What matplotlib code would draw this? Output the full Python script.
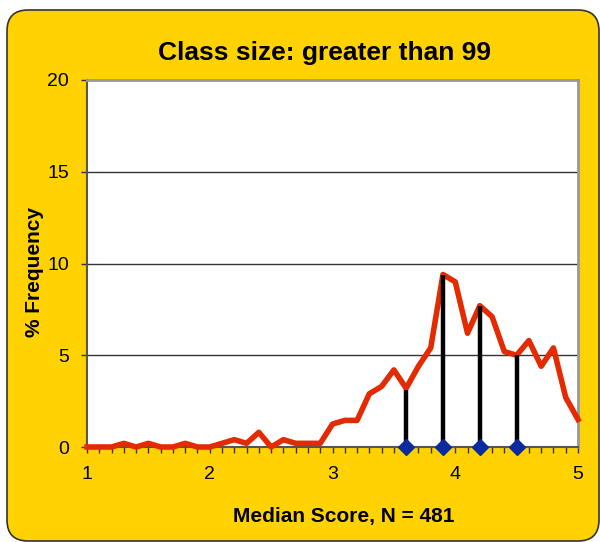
import matplotlib
matplotlib.use("Agg")
import matplotlib.pyplot as plt
from matplotlib.patches import FancyBboxPatch
from matplotlib.ticker import MultipleLocator

plt.rcParams['font.family'] = ['Liberation Sans', 'DejaVu Sans']

# ---- data ----
scores = [1.0, 1.1, 1.2, 1.3, 1.4, 1.5, 1.6, 1.7, 1.8, 1.9,
          2.0, 2.1, 2.2, 2.3, 2.4, 2.5, 2.6, 2.7, 2.8, 2.9,
          3.0, 3.1, 3.2, 3.3, 3.4, 3.5, 3.6, 3.7, 3.8, 3.9,
          4.0, 4.1, 4.2, 4.3, 4.4, 4.5, 4.6, 4.7, 4.8, 4.9, 5.0]
frequency = [0.0, 0.0, 0.0, 0.2, 0.0, 0.2, 0.0, 0.0, 0.2, 0.0,
             0.0, 0.2, 0.4, 0.2, 0.8, 0.0, 0.4, 0.2, 0.2, 0.2,
             1.25, 1.45, 1.45, 2.9, 3.3, 4.2, 3.2, 4.4, 5.4, 9.4,
             9.0, 6.2, 7.7, 7.1, 5.2, 5.0, 5.8, 4.4, 5.4, 2.7, 1.5]
stat_x = [3.6, 3.9, 4.2, 4.5]
stat_y = [3.1, 9.4, 7.7, 5.0]
xticks = [1, 2, 3, 4, 5]
yticks = [0, 5, 10, 15, 20]
title = "Class size: greater than 99"
xlabel = "Median Score, N = 481"
ylabel = "% Frequency"

W, H = 600, 542
fig = plt.figure(figsize=(W / 100, H / 100), dpi=100)
fig.patch.set_facecolor('white')

# rounded yellow background
box = FancyBboxPatch((7 / W, 1 - 541 / H), (599 - 7) / W, (541 - 10) / H,
                     boxstyle="round,pad=0,rounding_size=0.035",
                     transform=fig.transFigure, facecolor='#FFD200',
                     edgecolor='#333333', linewidth=1.2, zorder=-5,
                     mutation_aspect=W / H)
fig.patches.append(box)

left, right, top, bottom = 87, 578, 80, 447
ax = fig.add_axes([left / W, 1 - bottom / H, (right - left) / W, (bottom - top) / H])
ax.set_zorder(2)
ax.set_facecolor('white')

ax.set_xlim(1, 5)
ax.set_ylim(0, 20)
ax.set_xticks(xticks)
ax.set_yticks(yticks)
ax.xaxis.set_minor_locator(MultipleLocator(0.1))
ax.tick_params(axis='both', which='major', direction='out', length=4.3, width=1,
               color='#333333', labelsize=14)
ax.tick_params(axis='y', which='major', pad=8.5)
ax.tick_params(axis='x', which='major', pad=9.5)
ax.tick_params(axis='x', which='minor', direction='out', length=4, width=1, color='#333333')

for y in yticks[1:-1]:
    ax.axhline(y, color='#333333', linewidth=1, zorder=1)

for s in ['top', 'right']:
    ax.spines[s].set_color('#999999')
    ax.spines[s].set_linewidth(2)
for s in ['left', 'bottom']:
    ax.spines[s].set_color('#555555')
    ax.spines[s].set_linewidth(1.5)

ax.plot(scores, frequency, color='#E42A00', linewidth=4, zorder=3,
        solid_joinstyle='round', clip_on=False)
ax.vlines(stat_x, 0, stat_y, color='black', linewidth=3.2, zorder=4)
ax.plot(stat_x, [0] * len(stat_x), linestyle='none', marker='D', markersize=8.5,
        color='#0B2A9E', zorder=5, clip_on=False)

fig.text(325 / W, 1 - 60 / H, title, ha='center', va='baseline',
         fontsize=19, fontweight='bold')
fig.text(344 / W, 1 - 522 / H, xlabel, ha='center', va='baseline',
         fontsize=15, fontweight='bold')
fig.text(35 / W, 1 - 272 / H, ylabel, ha='center', va='center',
         fontsize=15, fontweight='bold', rotation=90)

fig.savefig('out.png', dpi=100, facecolor='white')
